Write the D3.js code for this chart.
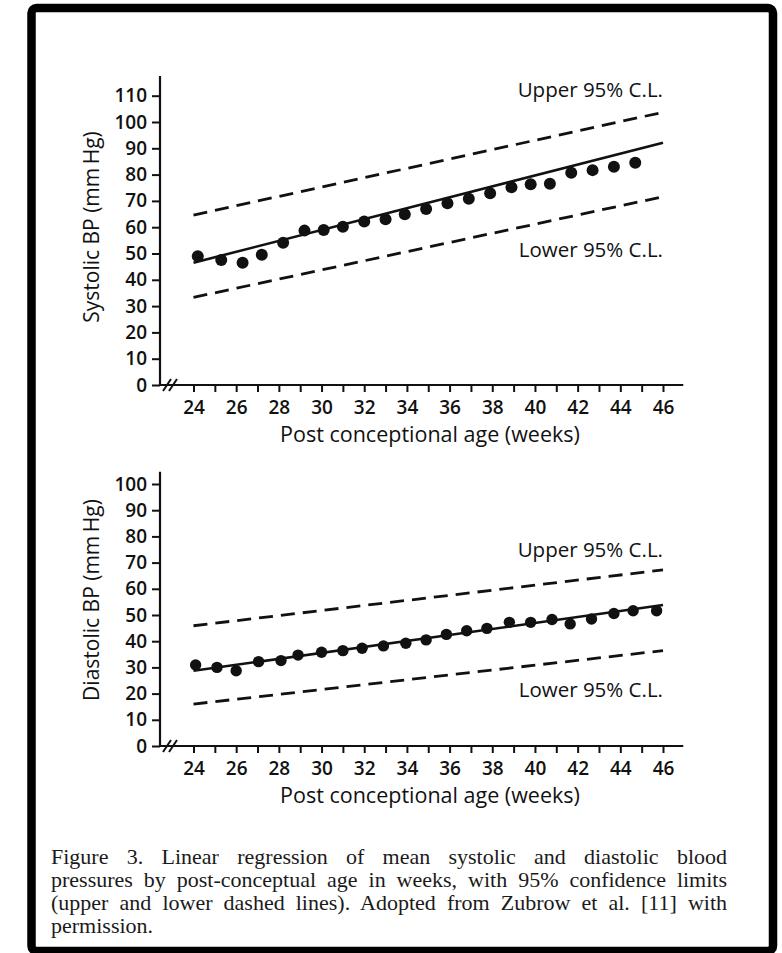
<!DOCTYPE html>
<html>
<head>
<meta charset="utf-8">
<script src="https://cdn.jsdelivr.net/npm/d3@7"></script>
<style>
  html, body { margin: 0; padding: 0; background: #fff; }
  #wrap { position: relative; width: 782px; height: 953px; overflow: hidden; }
  svg { position: absolute; left: 0; top: 0; }
  .cap { position: absolute; left: 51px; width: 676px; font-family: "Liberation Serif", "Times New Roman", serif;
         font-size: 22px; line-height: 23px; color: #1a1a1a; white-space: nowrap; }
  .just { text-align: justify; text-align-last: justify; }
</style>
</head>
<body>
<div id="wrap"></div>
<script>
// ---------- DATA ----------
const weekTicks = d3.range(24, 47, 1);            // minor ticks each week
const weekLabels = [24, 26, 28, 30, 32, 34, 36, 38, 40, 42, 44, 46];
const sysTicks = [0, 10, 20, 30, 40, 50, 60, 70, 80, 90, 100, 110];
const diaTicks = [0, 10, 20, 30, 40, 50, 60, 70, 80, 90, 100];

const sysWeeks  = [24.2, 25.3, 26.3, 27.2, 28.2, 29.2, 30.1, 31.0, 32.0, 33.0, 33.9, 34.9, 35.9, 36.9, 37.9, 38.9, 39.8, 40.7, 41.7, 42.7, 43.7, 44.7];
const sysValues = [49.0, 47.5, 46.5, 49.5, 54.1, 58.7, 58.9, 60.2, 62.2, 63.0, 64.9, 66.9, 69.1, 70.8, 72.9, 75.2, 76.3, 76.5, 80.7, 81.7, 83.0, 84.5];

const diaWeeks  = [24.1, 25.1, 26.0, 27.05, 28.1, 28.9, 30.0, 31.0, 31.9, 32.9, 33.95, 34.9, 35.85, 36.8, 37.75, 38.8, 39.8, 40.8, 41.65, 42.65, 43.7, 44.6, 45.7];
const diaValues = [30.9, 30.0, 28.7, 32.2, 32.6, 34.7, 35.8, 36.4, 37.3, 38.2, 39.2, 40.5, 42.6, 44.0, 44.9, 47.2, 47.2, 48.3, 46.6, 48.5, 50.6, 51.6, 51.6];

const lineWeeks = [24, 46];
const sysFit   = [46.5, 92.1];
const sysUpper = [64.6, 103.7];
const sysLower = [33.3, 71.6];
const diaFit   = [28.7, 53.8];
const diaUpper = [45.9, 67.2];
const diaLower = [16.0, 36.4];

const xTitle = "Post conceptional age (weeks)";
const upperLabel = "Upper 95% C.L.";
const lowerLabel = "Lower 95% C.L.";
const captionLines = [
  "Figure 3. Linear regression of mean systolic and diastolic blood",
  "pressures by post-conceptual age in weeks, with 95% confidence limits",
  "(upper and lower dashed lines). Adopted from Zubrow et al. [11] with",
  "permission."
];

// ---------- LAYOUT ----------
const W = 782, H = 953;
const FONT = "'Open Sans', 'Noto Sans', sans-serif";
const INK = "#111";
const TICKW = 600;
const WEIGHT = 500;
const wrap = d3.select("#wrap");
const svg = wrap.append("svg").attr("width", W).attr("height", H);

// frame
svg.append("rect").attr("x", 31.5).attr("y", 8).attr("width", 741.5).attr("height", 943)
  .attr("rx", 5).attr("fill", "none").attr("stroke", "#000").attr("stroke-width", 8.5);

const x = d3.scaleLinear().domain([24, 46]).range([193.5, 663]);
const axisX0 = 160;

function panel(cfg) {
  const g = svg.append("g");
  const y = d3.scaleLinear().domain([0, cfg.yMax]).range([cfg.y0, cfg.yTopPx]);

  // y axis
  const ya = g.append("g").attr("transform", `translate(${axisX0},0)`)
    .call(d3.axisLeft(y).tickValues(cfg.yTicks).tickSize(8).tickPadding(5).tickFormat(d3.format("d")));
  ya.select(".domain").remove();
  ya.selectAll("line").attr("stroke", INK).attr("stroke-width", 2);
  ya.selectAll("text").attr("font-family", FONT).attr("font-size", 19).attr("font-weight", TICKW).attr("fill", INK);
  g.append("line").attr("x1", axisX0).attr("x2", axisX0)
    .attr("y1", y(cfg.axisTopVal)).attr("y2", y(0) + 1)
    .attr("stroke", INK).attr("stroke-width", 2.2);

  // x axis
  const xa = g.append("g").attr("transform", `translate(0,${y(0)})`)
    .call(d3.axisBottom(x).tickValues(weekTicks).tickSize(7).tickPadding(9)
      .tickFormat(d => weekLabels.includes(d) ? d : ""));
  xa.select(".domain").remove();
  xa.selectAll("line").attr("stroke", INK).attr("stroke-width", 2);
  xa.selectAll("text").attr("font-family", FONT).attr("font-size", 19).attr("font-weight", TICKW).attr("fill", INK);
  g.append("line").attr("x1", axisX0).attr("x2", x(46.95))
    .attr("y1", y(0)).attr("y2", y(0)).attr("stroke", INK).attr("stroke-width", 2.2);
  // axis break marks
  [0, 6].forEach(off => {
    g.append("line").attr("x1", 163 + off).attr("y1", y(0) + 6)
      .attr("x2", 171 + off).attr("y2", y(0) - 6)
      .attr("stroke", INK).attr("stroke-width", 2);
  });

  // axis titles
  g.append("text").attr("x", 430).attr("y", y(0) + 57)
    .attr("text-anchor", "middle").attr("font-family", FONT).attr("font-size", 21.5).attr("font-weight", WEIGHT).attr("fill", INK)
    .text(xTitle);
  g.append("text").attr("transform", `translate(99,${cfg.yTitleCy}) rotate(-90)`)
    .attr("text-anchor", "middle").attr("font-family", FONT).attr("font-size", 21).attr("font-weight", WEIGHT).attr("fill", INK)
    .text(cfg.yTitle);

  const line = d3.line().x(d => x(d[0])).y(d => y(d[1]));
  const mk = arr => lineWeeks.map((w, i) => [w, arr[i]]);

  g.append("path").datum(mk(cfg.upper)).attr("d", line).attr("fill", "none")
    .attr("stroke", INK).attr("stroke-width", 2.8).attr("stroke-dasharray", "14,8");
  g.append("path").datum(mk(cfg.lower)).attr("d", line).attr("fill", "none")
    .attr("stroke", INK).attr("stroke-width", 2.8).attr("stroke-dasharray", "14,8");
  g.append("path").datum(mk(cfg.fit)).attr("d", line).attr("fill", "none")
    .attr("stroke", INK).attr("stroke-width", 2.6);

  g.selectAll("circle.pt").data(cfg.weeks.map((w, i) => [w, cfg.values[i]]))
    .enter().append("circle").attr("class", "pt")
    .attr("cx", d => x(d[0])).attr("cy", d => y(d[1])).attr("r", cfg.r).attr("fill", INK);

  g.append("text").attr("x", x(46)).attr("y", cfg.upperLabelY).attr("text-anchor", "end")
    .attr("font-family", FONT).attr("font-size", 20.5).attr("font-weight", WEIGHT).attr("fill", INK).text(upperLabel);
  g.append("text").attr("x", x(46)).attr("y", cfg.lowerLabelY).attr("text-anchor", "end")
    .attr("font-family", FONT).attr("font-size", 20.5).attr("font-weight", WEIGHT).attr("fill", INK).text(lowerLabel);
}

panel({
  yMax: 110, y0: 385, yTopPx: 95.7, axisTopVal: 117.5, yTicks: sysTicks,
  yTitle: "Systolic BP (mm\u2009Hg)", yTitleCy: 227,
  weeks: sysWeeks, values: sysValues, fit: sysFit, upper: sysUpper, lower: sysLower,
  r: 6, upperLabelY: 97, lowerLabelY: 257
});
panel({
  yMax: 100, y0: 746, yTopPx: 484, axisTopVal: 104.7, yTicks: diaTicks,
  yTitle: "Diastolic BP (mm\u2009Hg)", yTitleCy: 600,
  weeks: diaWeeks, values: diaValues, fit: diaFit, upper: diaUpper, lower: diaLower,
  r: 5.7, upperLabelY: 557, lowerLabelY: 697
});

// caption
captionLines.forEach((t, i) => {
  wrap.append("div").attr("class", "cap" + (i < captionLines.length - 1 ? " just" : ""))
    .style("top", (845 + i * 23) + "px").text(t);
});
</script>
</body>
</html>
